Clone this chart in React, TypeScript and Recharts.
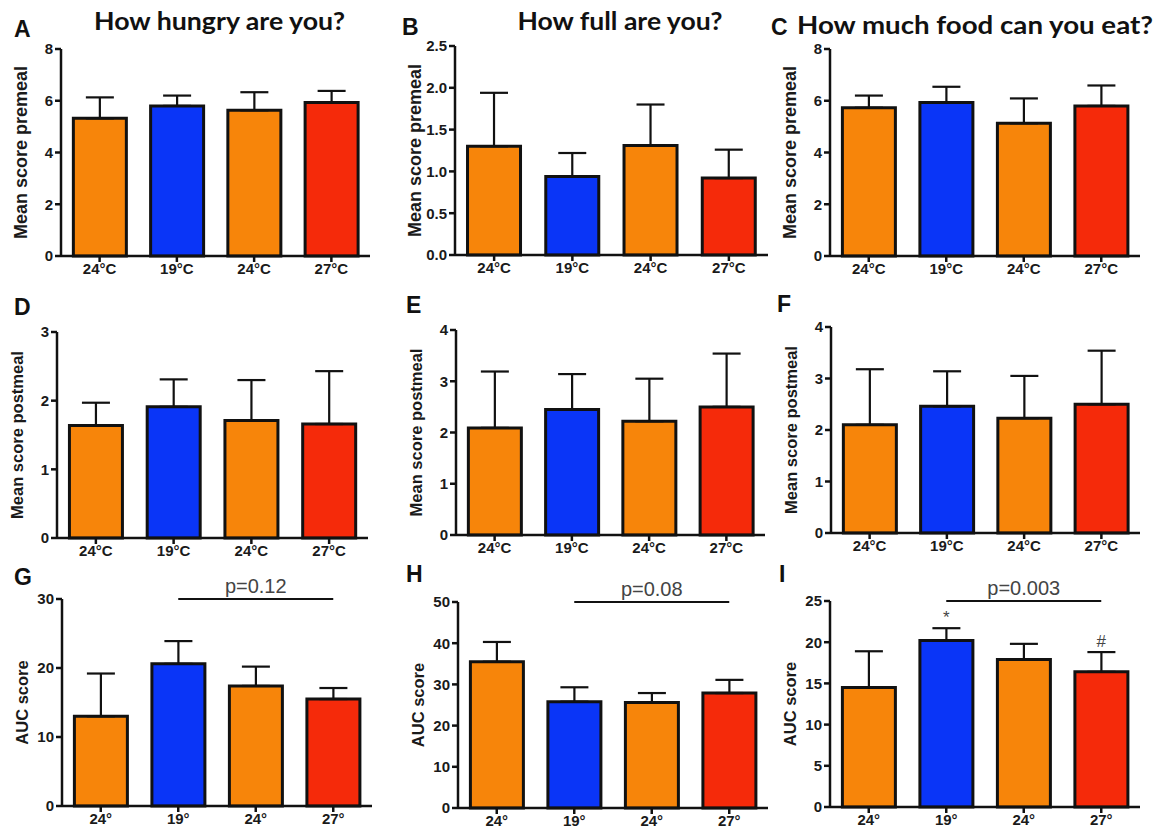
import { Bar, BarChart, Cell, ErrorBar, ReferenceDot, ReferenceLine, XAxis, YAxis } from "recharts";

const KEYS = ["a", "b", "c", "d"];
const TEMPS_C = ["24°C", "19°C", "24°C", "27°C"];
const TEMPS = ["24°", "19°", "24°", "27°"];

const ORANGE = "#f7850a";
const BLUE = "#0a35f7";
const RED = "#f52a0a";
const BAR_COLORS = [ORANGE, BLUE, ORANGE, RED];

const SANS = "'Liberation Sans', Arial, sans-serif";
const TITLE_FONT = "Lato, 'Open Sans', sans-serif";

// means and upper SEM
const hungryPre = [5.32, 5.8, 5.63, 5.93];
const hungryPreErr = [0.81, 0.4, 0.7, 0.45];
const fullPre = [1.3, 0.94, 1.31, 0.92];
const fullPreErr = [0.64, 0.28, 0.49, 0.34];
const foodPre = [5.73, 5.93, 5.13, 5.8];
const foodPreErr = [0.47, 0.61, 0.96, 0.79];

const hungryPost = [1.64, 1.91, 1.71, 1.66];
const hungryPostErr = [0.33, 0.4, 0.59, 0.77];
const fullPost = [2.09, 2.45, 2.22, 2.5];
const fullPostErr = [1.1, 0.69, 0.83, 1.04];
const foodPost = [2.1, 2.46, 2.23, 2.5];
const foodPostErr = [1.08, 0.68, 0.82, 1.04];

const hungryAuc = [13.0, 20.6, 17.4, 15.5];
const hungryAucErr = [6.2, 3.3, 2.8, 1.6];
const fullAuc = [35.5, 25.8, 25.6, 27.9];
const fullAucErr = [4.8, 3.5, 2.3, 3.2];
const foodAuc = [14.5, 20.2, 17.9, 16.4];
const foodAucErr = [4.4, 1.5, 1.9, 2.4];
const foodAucMarks = ["", "*", "", "#"];

const ticks8 = [0, 2, 4, 6, 8];
const ticks25 = [0, 0.5, 1, 1.5, 2, 2.5];
const ticks3 = [0, 1, 2, 3];
const ticks4 = [0, 1, 2, 3, 4];
const ticks30 = [0, 10, 20, 30];
const ticks50 = [0, 10, 20, 30, 40, 50];
const ticks25i = [0, 5, 10, 15, 20, 25];

// chart frame
const ML = 10;
const YW = 50;
const MR = 5;
const MT = 40;
const XH = 30;
const MB = 5;

type Box = { axisX: number; right: number; top: number; zero: number };
type PanelDef = {
  means: number[];
  errs: number[];
  ticks: number[];
  labels: string[];
  yLabel: string;
  yLabelSize: number;
  box: Box;
  decimals?: boolean;
  pText?: string;
  marks?: string[];
};

const panels: PanelDef[] = [
  { means: hungryPre, errs: hungryPreErr, ticks: ticks8, labels: TEMPS_C, yLabel: "Mean score premeal", yLabelSize: 18, box: { axisX: 61, right: 370, top: 49, zero: 256 } },
  { means: fullPre, errs: fullPreErr, ticks: ticks25, labels: TEMPS_C, yLabel: "Mean score premeal", yLabelSize: 18, decimals: true, box: { axisX: 455, right: 768, top: 46, zero: 255 } },
  { means: foodPre, errs: foodPreErr, ticks: ticks8, labels: TEMPS_C, yLabel: "Mean score premeal", yLabelSize: 18, box: { axisX: 830, right: 1140, top: 49, zero: 256 } },
  { means: hungryPost, errs: hungryPostErr, ticks: ticks3, labels: TEMPS_C, yLabel: "Mean score postmeal", yLabelSize: 16.5, box: { axisX: 57, right: 368, top: 332, zero: 538 } },
  { means: fullPost, errs: fullPostErr, ticks: ticks4, labels: TEMPS_C, yLabel: "Mean score postmeal", yLabelSize: 16.5, box: { axisX: 456, right: 765, top: 330, zero: 535 } },
  { means: foodPost, errs: foodPostErr, ticks: ticks4, labels: TEMPS_C, yLabel: "Mean score postmeal", yLabelSize: 16.5, box: { axisX: 831, right: 1140, top: 327, zero: 533 } },
  { means: hungryAuc, errs: hungryAucErr, ticks: ticks30, labels: TEMPS, yLabel: "AUC score", yLabelSize: 16.5, pText: "p=0.12", box: { axisX: 62, right: 372, top: 599, zero: 806 } },
  { means: fullAuc, errs: fullAucErr, ticks: ticks50, labels: TEMPS, yLabel: "AUC score", yLabelSize: 16.5, pText: "p=0.08", box: { axisX: 458, right: 768, top: 602, zero: 808 } },
  { means: foodAuc, errs: foodAucErr, ticks: ticks25i, labels: TEMPS, yLabel: "AUC score", yLabelSize: 16.5, pText: "p=0.003", marks: foodAucMarks, box: { axisX: 830, right: 1140, top: 601, zero: 807 } },
];

const titles = [
  { text: "How hungry are you?", x: 219.5, y: 30, len: 251 },
  { text: "How full are you?", x: 620, y: 30, len: 205 },
  { text: "How much food can you eat?", x: 975, y: 34, len: 356 },
];

const letters = [
  { t: "A", x: 14, y: 37 },
  { t: "B", x: 402, y: 35 },
  { t: "C", x: 771, y: 35 },
  { t: "D", x: 14, y: 315 },
  { t: "E", x: 406, y: 313 },
  { t: "F", x: 777, y: 312 },
  { t: "G", x: 14, y: 585 },
  { t: "H", x: 406, y: 582 },
  { t: "I", x: 779, y: 582 },
];

const tickStyle = { fill: "#1a1a1a", fontSize: 15, fontWeight: 700, fontFamily: SANS };

function Panel({ p }: { p: PanelDef }) {
  const data = KEYS.map((k, i) => ({ key: k, mean: p.means[i], err: [0, p.errs[i]] }));
  const plotW = p.box.right - p.box.axisX;
  const plotH = p.box.zero - p.box.top;
  const W = plotW + ML + YW + MR;
  const H = plotH + MT + XH + MB;
  const top = p.ticks[p.ticks.length - 1];
  const labelX = ML + YW - 40;
  const labelY = MT + plotH / 2;

  return (
    <div style={{ position: "absolute", left: p.box.axisX - ML - YW, top: p.box.top - MT, width: W, height: H }}>
      <BarChart
        width={W}
        height={H}
        data={data}
        margin={{ top: MT, right: MR, bottom: MB, left: ML }}
        barCategoryGap="16%"
        style={{ overflow: "visible" }}
      >
        <XAxis
          dataKey="key"
          height={XH}
          tickFormatter={(v: string) => p.labels[KEYS.indexOf(v)]}
          stroke="#111"
          strokeWidth={2.5}
          tickSize={6}
          tickMargin={1}
          tick={tickStyle}
          interval={0}
        />
        <YAxis
          type="number"
          width={YW}
          domain={[0, top]}
          ticks={p.ticks}
          interval={0}
          tickFormatter={(v: number) => (p.decimals ? v.toFixed(1) : String(v))}
          stroke="#111"
          strokeWidth={2.5}
          tickSize={6}
          tickMargin={2}
          tick={tickStyle}
          label={{
            content: () => (
              <text
                x={labelX}
                y={labelY}
                transform={`rotate(-90 ${labelX} ${labelY})`}
                textAnchor="middle"
                dominantBaseline="central"
                fill="#1a1a1a"
                fontSize={p.yLabelSize}
                fontWeight={700}
                fontFamily={SANS}
              >
                {p.yLabel}
              </text>
            ),
          }}
        />
        <Bar dataKey="mean" isAnimationActive={false} stroke="#111" strokeWidth={3}>
          {data.map((d, i) => (
            <Cell key={d.key} fill={BAR_COLORS[i]} />
          ))}
          <ErrorBar dataKey="err" direction="y" width={14} stroke="#111" strokeWidth={2.2} isAnimationActive={false} />
        </Bar>
        {p.pText && (
          <ReferenceLine
            segment={[
              { x: "b", y: top },
              { x: "d", y: top },
            ]}
            stroke="#111"
            strokeWidth={2}
            ifOverflow="visible"
            label={{ value: p.pText, position: "top", offset: 6, fill: "#444", fontSize: 20, fontFamily: SANS }}
          />
        )}
        {p.marks &&
          p.marks.map((m, i) =>
            m ? (
              <ReferenceDot
                key={`m-${i}`}
                x={KEYS[i]}
                y={p.means[i] + p.errs[i]}
                r={0}
                stroke="none"
                fill="none"
                ifOverflow="visible"
                label={{ value: m, position: "top", offset: 5, fill: "#444", fontSize: 17, fontFamily: SANS }}
              />
            ) : null
          )}
      </BarChart>
    </div>
  );
}

export default function App() {
  return (
    <div style={{ position: "absolute", left: 0, top: 0, width: 1161, height: 838, background: "#fff" }}>
      {panels.map((p, i) => (
        <Panel key={i} p={p} />
      ))}
      <svg width={1161} height={838} style={{ position: "absolute", left: 0, top: 0, pointerEvents: "none" }}>
        {titles.map((t) => (
          <text
            key={t.text}
            x={t.x}
            y={t.y}
            textAnchor="middle"
            fontFamily={TITLE_FONT}
            fontWeight={700}
            fontSize={25}
            fill="#111"
            textLength={t.len}
            lengthAdjust="spacingAndGlyphs"
          >
            {t.text}
          </text>
        ))}
        {letters.map((l) => (
          <text key={l.t} x={l.x} y={l.y} fontFamily={SANS} fontWeight={700} fontSize={23} fill="#111">
            {l.t}
          </text>
        ))}
      </svg>
    </div>
  );
}
